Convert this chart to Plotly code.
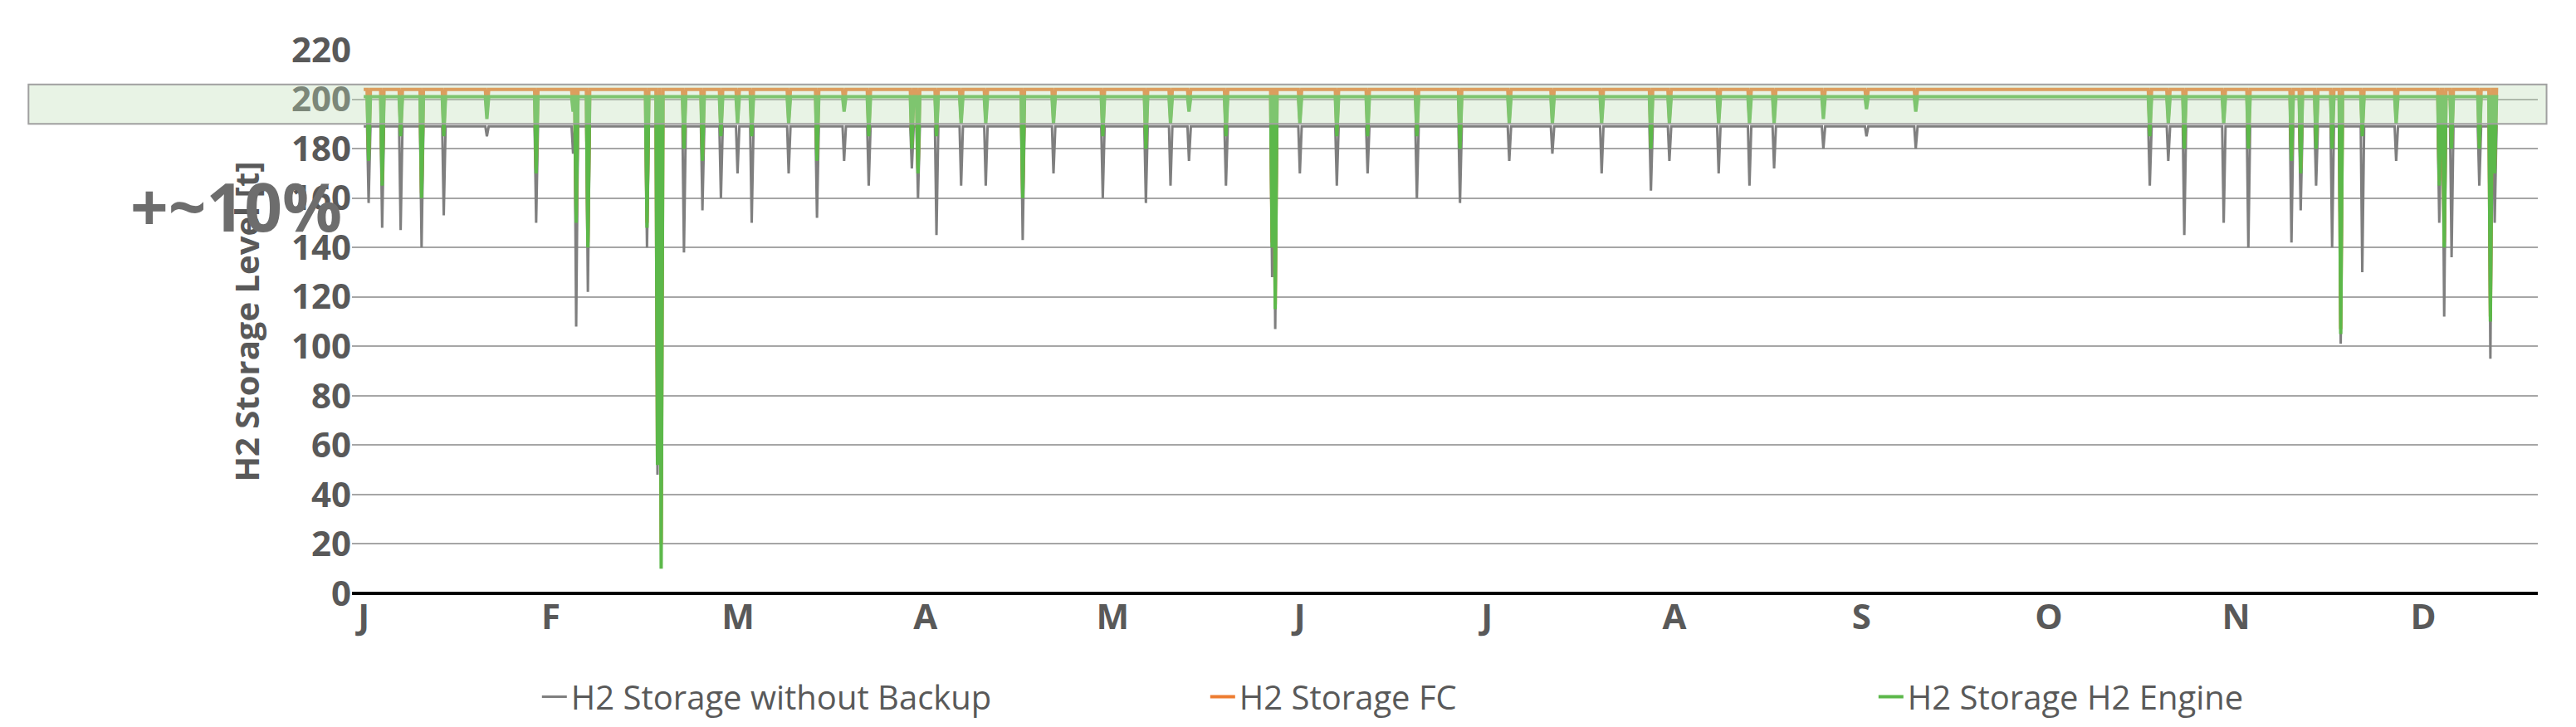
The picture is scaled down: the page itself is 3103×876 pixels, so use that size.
import plotly.graph_objects as go

months = ["J", "F", "M", "A", "M", "J", "J", "A", "S", "O", "N", "D"]
month_days = [0, 30.4, 60.8, 91.2, 121.6, 152.0, 182.4, 212.8, 243.2, 273.6, 304.0, 334.4]

# baseline levels [t]
base_gray = 189
base_fc = 204
base_eng = 201
end_day = 346

# dip events: day, minimum of each series [t]
dip_day = [0.8, 3, 6, 9.4, 13, 20, 28, 34, 34.5, 36.4, 46, 47.7, 48.3, 52, 55, 58, 60.7, 63,
           69, 73.6, 78, 82, 89, 90, 93, 97, 101, 107, 112, 120, 127, 131, 134, 140, 147.5, 148,
           152, 158, 163, 171, 178, 186, 193, 201, 209, 212, 220, 225, 229, 237, 244, 252,
           290, 293, 295.6, 302, 306, 313, 314.5, 317, 319.6, 321, 324.5, 330, 337, 337.8, 339,
           343.5, 345.3, 346]
gray_min = [158, 148, 147, 140, 153, 185, 150, 178, 108, 122, 140, 48, 45, 138, 155, 160, 170, 150,
            170, 152, 175, 165, 172, 160, 145, 165, 165, 143, 170, 160, 158, 165, 175, 165, 128, 107,
            170, 165, 170, 160, 158, 175, 178, 170, 163, 175, 170, 165, 172, 180, 185, 180,
            165, 175, 145, 150, 140, 142, 155, 165, 140, 101, 130, 175, 150, 112, 136,
            165, 95, 150]
fc_min = [177, 167, 187, 162, 187, 194, 172, 197, 152, 142, 150, 55, 20, 182, 177, 187, 192, 187,
          192, 177, 197, 187, 182, 172, 187, 192, 192, 162, 192, 187, 182, 192, 197, 187, 142, 117,
          192, 187, 187, 187, 182, 192, 192, 192, 182, 192, 192, 192, 192, 194, 198, 197,
          187, 192, 182, 192, 182, 177, 172, 182, 182, 107, 187, 192, 167, 142, 182,
          182, 112, 172]
eng_min = [175, 165, 185, 160, 185, 192, 170, 195, 150, 140, 148, 52, 10, 180, 175, 185, 190, 185,
           190, 175, 195, 185, 180, 170, 185, 190, 190, 160, 190, 185, 180, 190, 195, 185, 140, 115,
           190, 185, 185, 185, 180, 190, 190, 190, 180, 190, 190, 190, 190, 192, 196, 195,
           185, 190, 180, 190, 180, 175, 170, 180, 180, 105, 185, 190, 165, 140, 180,
           180, 110, 170]

y_ticks = list(range(0, 221, 20))


def build(base, mins):
    xs, ys = [0], [base]
    for d, v in zip(dip_day, mins):
        xs += [d - 0.25, d, d + 0.3]
        ys += [base, v, base]
    xs.append(end_day)
    ys.append(base)
    return xs, ys


fig = go.Figure()
for name, base, mins, color, w in [
    ("H2 Storage without Backup", base_gray, gray_min, "#7f7f7f", 3),
    ("H2 Storage FC", base_fc, fc_min, "#ed7d31", 4),
    ("H2 Storage H2 Engine", base_eng, eng_min, "#5cb84a", 4),
]:
    xs, ys = build(base, mins)
    fig.add_trace(go.Scatter(x=xs, y=ys, mode="lines", name=name,
                             line=dict(color=color, width=w)))

fig.add_shape(type="rect", xref="paper", yref="y", x0=-0.148, x1=1.004, y0=190, y1=206,
              fillcolor="rgba(190,222,180,0.35)", line=dict(color="#a0a0a0", width=2),
              layer="above")
fig.add_annotation(text="<b>+~10%</b>", xref="paper", yref="paper", x=-0.102, y=0.80,
                   showarrow=False, font=dict(family="Open Sans", size=80, color="#6d6d6d"))

fig.update_layout(
    width=3103, height=876,
    margin=dict(l=416, r=54, t=52, b=169),
    plot_bgcolor="white", paper_bgcolor="white",
    font=dict(family="Open Sans", color="#595959"),
    showlegend=True,
    legend=dict(orientation="h", x=0.085, y=-0.19, xanchor="left", yanchor="middle",
                font=dict(size=40, color="#595959"), entrywidth=760, entrywidthmode="pixels"),
    xaxis=dict(range=[-1.9, 353], tickvals=month_days, ticktext=["<b>%s</b>" % m for m in months],
               tickfont=dict(size=42, color="#595959"), showgrid=False, zeroline=False,
               showline=False, ticks="", ticklen=0),
    yaxis=dict(range=[0, 220], tickvals=y_ticks, ticktext=["<b>%d</b>" % t for t in y_ticks],
               tickfont=dict(size=42, color="#595959"), gridcolor="#a6a6a6", gridwidth=2,
               zeroline=True, zerolinecolor="black", zerolinewidth=4, showline=False,
               title=dict(text="<b>H2 Storage Level [t]</b>", font=dict(size=40, color="#595959"),
                          standoff=25)),
)
fig.write_html("out.html")
